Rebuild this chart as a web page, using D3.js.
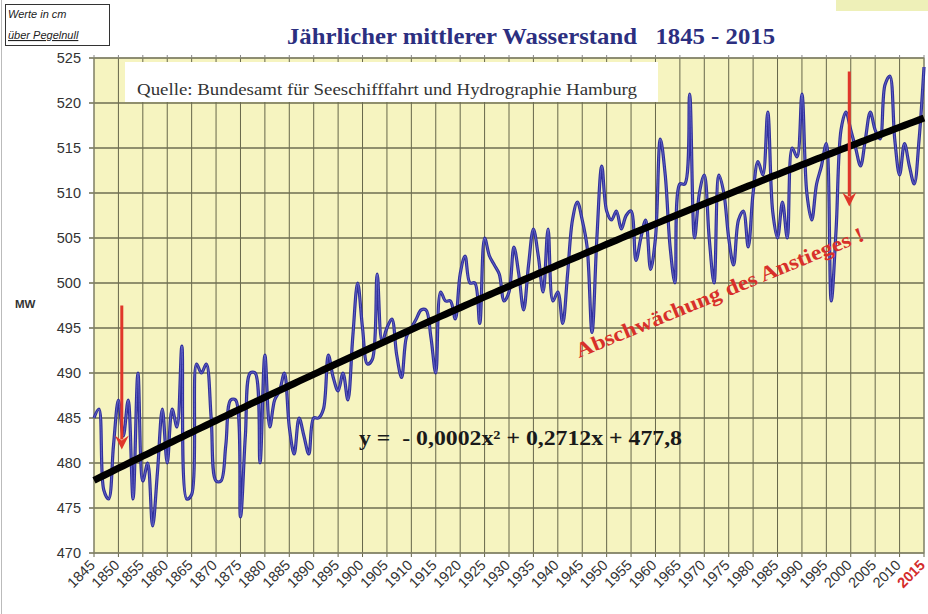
<!DOCTYPE html>
<html>
<head>
<meta charset="utf-8">
<script src="https://cdn.jsdelivr.net/npm/d3@7"></script>
<style>
  body { margin: 0; background: #fff; }
  svg { display: block; }
</style>
</head>
<body>
<div id="chart"></div>
<script>
// yearly mean water level (cm above gauge zero), 1845 - 2015
var firstYear = 1845
var waterLevel = [
  485, 486, 477, 476, 482, 487, 483, 487, 476, 490,   // 1845-1854
  478, 480, 473, 479, 486, 480, 486, 484, 493, 476,   // 1855-1864
  476.5, 491, 490, 491, 485, 478, 478, 482, 487, 487, // 1865-1874
  474, 483, 490, 490, 480, 492, 484, 487, 488, 490,   // 1875-1884
  484, 481, 485, 483, 481, 485, 485, 486, 492, 489.5, // 1885-1894
  488, 490, 487, 494, 500, 495, 491, 491.5, 501, 493.5, // 1895-1904
  495, 496, 492, 489.5, 494, 495, 496, 497, 497, 494, // 1905-1914
  490, 499, 498, 498, 496, 501, 503, 500, 500, 495.5, // 1915-1924
  505, 503, 502, 501, 498, 499, 504, 501, 497, 502,   // 1925-1934
  506, 503, 499, 506, 498, 499, 495.5, 501, 507, 509, // 1935-1944
  507, 504, 494.5, 505, 513, 508, 507, 508, 506, 507.5, // 1945-1954
  508, 502.5, 505, 507, 501.5, 505, 516, 512, 504, 500, // 1955-1964
  511, 511, 521, 505, 510, 512, 505, 500, 512, 510,   // 1965-1974
  505, 502, 507, 508, 504, 510, 513.5, 512, 519, 508, // 1975-1984
  505, 509, 505, 515, 514, 521, 510, 507, 511, 513,   // 1985-1994
  515.5, 498, 506, 517, 519, 517, 515, 513, 516, 519, // 1995-2004
  517, 516, 522, 523, 516, 512, 515.5, 513, 511, 516, // 2005-2014
  524                                                 // 2015
]

// trend polynomial shown in the chart: y = a*x^2 + b*x + c, x = years counted from 1845 = 1
var trendCoef = [-0.0002, 0.2712, 477.8]

var yTicks = [470, 475, 480, 485, 490, 495, 500, 505, 510, 515, 520, 525]
var xTicks = d3.range(1845, 2016, 5)

var width = 928
var height = 614
var plot = {left: 94, right: 924, top: 58, bottom: 553}

var svg = d3.select("#chart")
  .append("svg")
  .attr("width", width)
  .attr("height", height)

var data = waterLevel.map((v, i) => ({year: firstYear + i, value: v}))
var trend = data.map(d => {
  var x = d.year - firstYear + 1
  return {year: d.year, value: trendCoef[0]*x*x + trendCoef[1]*x + trendCoef[2]}
})

var xScale = d3.scaleLinear().domain([1845, 2015]).range([plot.left, plot.right])
var yScale = d3.scaleLinear().domain([470, 525]).range([plot.bottom, plot.top])

var serif = "'Liberation Serif', 'Times New Roman', serif"
var sans = "'Liberation Sans', Arial, sans-serif"

// frame of the picture
svg.append("line")
  .attr("x1", 1.5).attr("x2", 1.5).attr("y1", 0).attr("y2", height)
  .style("stroke", "#bbb")

svg.append("rect") // small tinted box at the top right
  .attr("x", 836).attr("y", 0).attr("width", 92).attr("height", 11)
  .style("fill", "#eef0b8")

// unit box
svg.append("rect")
  .attr("x", 5.5).attr("y", 4.5).attr("width", 104).attr("height", 41)
  .style("fill", "#fff").style("stroke", "#333").style("stroke-width", 1)
svg.append("text").attr("x", 8).attr("y", 18).text("Werte in cm")
  .style("font", "italic 11px " + sans).style("fill", "#222")
svg.append("text").attr("x", 8).attr("y", 39).text("über Pegelnull")
  .style("font", "italic 11px " + sans).style("fill", "#222")
  .style("text-decoration", "underline")

// title
svg.append("text")
  .attr("x", 531).attr("y", 44)
  .attr("text-anchor", "middle")
  .attr("textLength", 488)
  .attr("lengthAdjust", "spacingAndGlyphs")
  .style("white-space", "pre")
  .style("font", "bold 23px " + serif)
  .style("fill", "#2c2f80")
  .text("Jährlicher mittlerer Wasserstand   1845 - 2015")

// plot background
svg.append("rect")
  .attr("x", plot.left).attr("y", plot.top)
  .attr("width", plot.right - plot.left).attr("height", plot.bottom - plot.top)
  .style("fill", "#f6f4c0")

// grid
svg.append("g").selectAll("line")
  .data(xTicks)
  .enter().append("line")
  .attr("x1", d => xScale(d)).attr("x2", d => xScale(d))
  .attr("y1", plot.top).attr("y2", plot.bottom + 4)
  .style("stroke", "#66664a").style("stroke-width", 1)

svg.append("g").selectAll("line")
  .data(yTicks)
  .enter().append("line")
  .attr("x1", plot.left - 5).attr("x2", plot.right)
  .attr("y1", d => yScale(d)).attr("y2", d => yScale(d))
  .style("stroke", "#6e6e52").style("stroke-width", 1.4)

// small ticks on the top edge
svg.append("g").selectAll("line")
  .data(xTicks)
  .enter().append("line")
  .attr("x1", d => xScale(d)).attr("x2", d => xScale(d))
  .attr("y1", plot.top - 3).attr("y2", plot.top)
  .style("stroke", "#888")

svg.append("rect")
  .attr("x", plot.left).attr("y", plot.top)
  .attr("width", plot.right - plot.left).attr("height", plot.bottom - plot.top)
  .style("fill", "none").style("stroke", "#8a8a70").style("stroke-width", 1)

// source box
svg.append("rect")
  .attr("x", 125).attr("y", 62).attr("width", 533).attr("height", 40)
  .style("fill", "#fff")
svg.append("text")
  .attr("x", 137).attr("y", 95)
  .attr("textLength", 500)
  .attr("lengthAdjust", "spacingAndGlyphs")
  .style("font", "16px " + serif)
  .style("fill", "#333")
  .text("Quelle: Bundesamt für Seeschifffahrt und Hydrographie Hamburg")

// y axis labels
svg.append("g").selectAll("text")
  .data(yTicks)
  .enter().append("text")
  .attr("x", 81).attr("y", d => yScale(d) + 5)
  .attr("text-anchor", "end")
  .style("font", "14.5px " + sans)
  .style("fill", "#333")
  .text(d => d)

svg.append("text")
  .attr("x", 15).attr("y", 308)
  .style("font", "bold 11.5px " + sans)
  .style("fill", "#333")
  .text("MW")

// x axis labels, rotated
svg.append("g").selectAll("text")
  .data(xTicks)
  .enter().append("text")
  .attr("transform", d => "translate(" + (xScale(d) + 2) + "," + 566 + ") rotate(-45)")
  .attr("text-anchor", "end")
  .style("font", d => (d === 2015 ? "bold " : "") + "14.5px " + sans)
  .style("fill", d => d === 2015 ? "#d42c2c" : "#333")
  .text(d => d)

// water level line
var line = d3.line()
  .x(d => xScale(d.year))
  .y(d => yScale(d.value))
  .curve(d3.curveCatmullRom.alpha(0.5))

svg.append("path")
  .datum(data)
  .attr("d", line)
  .style("fill", "none")
  .style("stroke", "#30309a")
  .style("stroke-width", 3.2)
  .style("stroke-linejoin", "round")

svg.append("path")
  .datum(data)
  .attr("d", line)
  .style("fill", "none")
  .style("stroke", "#6f6fd0")
  .style("stroke-width", 0.8)

// trend line
svg.append("path")
  .datum(trend)
  .attr("d", d3.line().x(d => xScale(d.year)).y(d => yScale(d.value)))
  .style("fill", "none")
  .style("stroke", "#000")
  .style("stroke-width", 7)

// red arrows
var arrows = [
  {year: 1851, from: 497.5, to: 481.5},
  {year: 2000, from: 523.5, to: 508.5}
]
svg.append("g").selectAll("line")
  .data(arrows)
  .enter().append("line")
  .attr("x1", d => xScale(d.year) - 1.5).attr("x2", d => xScale(d.year) - 1.5)
  .attr("y1", d => yScale(d.from)).attr("y2", d => yScale(d.to) - 10)
  .style("stroke", "#e0362a").style("stroke-width", 3)
svg.append("g").selectAll("path")
  .data(arrows)
  .enter().append("path")
  .attr("d", d => {
    var x = xScale(d.year) - 1.5, y = yScale(d.to)
    return "M" + (x - 7) + "," + (y - 14) + " L" + x + "," + y + " L" + (x + 7) + "," + (y - 14) + " L" + x + "," + (y - 9) + " Z"
  })
  .style("fill", "#e0362a")

// equation
svg.append("text")
  .attr("x", 359).attr("y", 445)
  .attr("textLength", 323)
  .attr("lengthAdjust", "spacingAndGlyphs")
  .style("white-space", "pre")
  .style("font", "bold 22px " + serif)
  .style("fill", "#1a1a1a")
  .text("y =  - 0,0002x² + 0,2712x + 477,8")

// annotation
svg.append("text")
  .attr("transform", "translate(579,358) rotate(-22.4)")
  .attr("textLength", 310)
  .attr("lengthAdjust", "spacingAndGlyphs")
  .style("font", "bold 21px " + serif)
  .style("fill", "#d8302a")
  .text("Abschwächung des Anstieges !")
</script>
</body>
</html>
